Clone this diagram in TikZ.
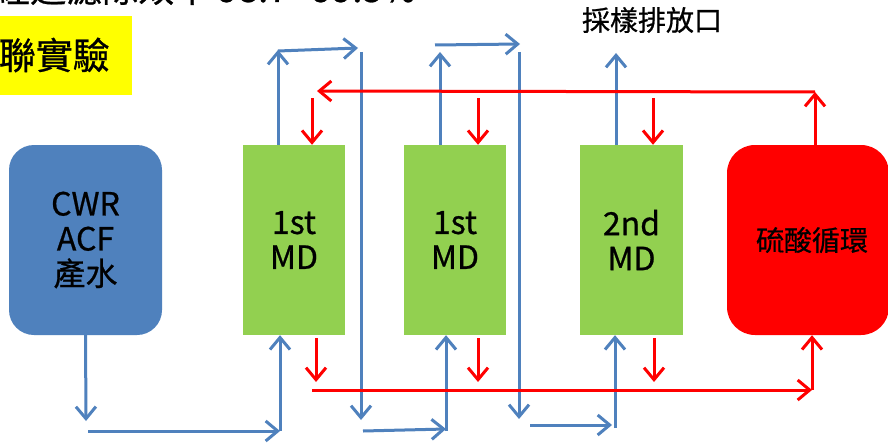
\documentclass[tikz,border=0pt]{standalone}
\usepackage{fontspec}
\setmainfont{Noto Sans CJK TC}[FakeBold=0.7]
\usetikzlibrary{arrows.meta}
\definecolor{cblue}{HTML}{4F81BD}
\definecolor{cgreen}{HTML}{92D050}
\definecolor{cred}{HTML}{FF0000}
\definecolor{cyel}{HTML}{FFFF00}
\tikzset{
  mdbox/.style={fill=cgreen, draw=none, minimum width=102pt, minimum height=190pt, inner sep=0pt, align=center, font=\fontsize{32}{35}\selectfont},
  barr/.style={draw=cblue, line width=3pt, -{Straight Barb[length=12pt,width=20pt]}},
  rarr/.style={draw=cred, line width=3pt, -{Straight Barb[length=12pt,width=20pt]}},
}
\begin{document}
\begin{tikzpicture}[x=1pt,y=-1pt]
\useasboundingbox (0,0) rectangle (888,444);
\fill[white] (0,0) rectangle (888,444);
% clipped heading
\node[anchor=base west, inner sep=0pt, font=\fontsize{36}{40}\selectfont] (head) at (-6,2) {經過濾除效率 98.7 ~ 99.5\%};
% yellow label
\fill[cyel] (0,16) rectangle (132,95);
\node[anchor=east, inner sep=0pt, font=\fontsize{37}{40}\selectfont] (lab) at (110,55) {聯實驗};
% boxes
\node[fill=cblue, rounded corners=25pt, minimum width=153pt, minimum height=190pt, inner sep=0pt, align=center, font=\fontsize{32}{35}\selectfont] (cwr) at (85.5,240) {CWR\\ACF\\產水};
\node[mdbox] (md1) at (294,240) {1st\\MD};
\node[mdbox] (md2) at (455,240) {1st\\MD};
\node[mdbox, minimum width=103pt] (md3) at (631.5,240) {2nd\\MD};
\node[fill=cred, rounded corners=28pt, minimum width=162pt, minimum height=190pt, inner sep=0pt, font=\fontsize{28}{34}\selectfont] (acid) at (808,240) {\hspace*{8pt}硫酸循環};
\node[inner sep=0pt, font=\fontsize{28}{32}\selectfont] (outlet) at (652,20) {採樣排放口};
% blue coordinates
\coordinate (p1) at (86,421);
\coordinate (h0s) at (88,431);
\coordinate (h0e) at (280,431);
\coordinate (u1t) at (278,50);
\coordinate (h1s) at (278,51);
\coordinate (h1e) at (358,48);
\coordinate (d1t) at (361,52);
\coordinate (d1b) at (361,420);
\coordinate (h2s) at (363,431);
\coordinate (h2e) at (446,429);
\coordinate (v2b) at (446,431);
\coordinate (u2t) at (440,52);
\coordinate (h3s) at (435,45);
\coordinate (h3e) at (520,44);
\coordinate (d2t) at (519,52);
\coordinate (d2b) at (519,419);
\coordinate (h4s) at (530,425);
\coordinate (h4e) at (612,425);
\coordinate (v3b) at (615,428);
\coordinate (u3t) at (616,53);
% blue arrows
\draw[barr] (cwr.south) -- (p1);
\draw[barr] (h0s) -- (h0e);
\draw[barr] (h0e) -- (h0e |- md1.south);
\draw[barr] (u1t |- md1.north) -- (u1t);
\draw[barr] (h1s) -- (h1e);
\draw[barr] (d1t) -- (d1b);
\draw[barr] (h2s) -- (h2e);
\draw[barr] (v2b) -- (v2b |- md2.south);
\draw[barr] (u2t |- md2.north) -- (u2t);
\draw[barr] (h3s) -- (h3e);
\draw[barr] (d2t) -- (d2b);
\draw[barr] (h4s) -- (h4e);
\draw[barr] (v3b) -- (v3b |- md3.south);
\draw[barr] (u3t |- md3.north) -- (u3t);
% red coordinates
\coordinate (ru) at (815,92);
\coordinate (rl) at (317,91);
\coordinate (rd1) at (312,98);
\coordinate (rd2) at (478,98);
\coordinate (rd3) at (653,98);
\coordinate (rb1) at (316,382);
\coordinate (rb2) at (478,382);
\coordinate (rb3) at (654,382);
\coordinate (rhs) at (312,390);
\coordinate (rhe) at (812,390);
% red arrows
\draw[rarr] (ru |- acid.north) -- (ru);
\draw[rarr] (ru) -- (rl);
\draw[rarr] (rd1) -- (rd1 |- md1.north);
\draw[rarr] (rd2) -- (rd2 |- md2.north);
\draw[rarr] (rd3) -- (rd3 |- md3.north);
\draw[rarr, shorten <=3pt] (rb1 |- md1.south) -- (rb1);
\draw[rarr, shorten <=3pt] (rb2 |- md2.south) -- (rb2);
\draw[rarr, shorten <=3pt] (rb3 |- md3.south) -- (rb3);
\draw[rarr] (rhs) -- (rhe);
\draw[rarr] (rhe) -- (rhe |- acid.south);
\end{tikzpicture}
\end{document}
